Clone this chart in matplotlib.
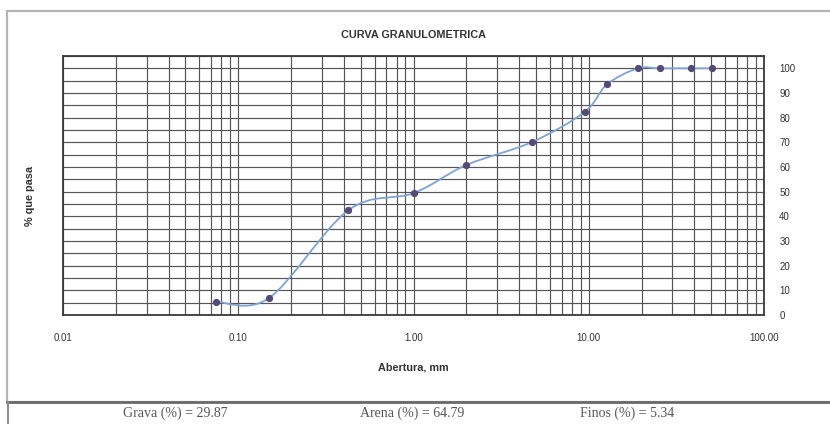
import numpy as np
import matplotlib
matplotlib.use("Agg")
import matplotlib.pyplot as plt
from matplotlib.path import Path
from matplotlib.patches import PathPatch, Rectangle
from matplotlib.lines import Line2D
from matplotlib.ticker import MultipleLocator, FixedLocator, LogLocator, NullFormatter

# Sieve openings (mm) and cumulative percent passing
abertura_mm = [0.075, 0.15, 0.425, 1.00, 2.00, 4.75, 9.50, 12.70, 19.05, 25.40, 38.10, 50.80]
pasa_pct = [5.34, 6.9, 42.5, 49.4, 60.8, 70.13, 82.4, 93.5, 100.0, 100.0, 100.0, 100.0]

x_ticks = [0.01, 0.1, 1.0, 10.0, 100.0]
x_ticklabels = ["0.01", "0.10", "1.00", "10.00", "100.00"]
y_ticks = [0, 10, 20, 30, 40, 50, 60, 70, 80, 90, 100]

grava, arena, finos = 29.87, 64.79, 5.34

W, H = 830, 424
fig = plt.figure(figsize=(W / 100, H / 100), dpi=100)
fig.patch.set_facecolor("white")

def fx(px):
    return px / W

def fy(py):
    return 1 - py / H

# outer chart frame and the summary strip below it
fig.add_artist(Rectangle((fx(7), fy(402)), fx(840) - fx(7), fy(11) - fy(402),
                         transform=fig.transFigure, fill=False, ec="#b5b5b5", lw=1.6))
fig.add_artist(Line2D([fx(7), fx(830)], [fy(401.5), fy(401.5)], transform=fig.transFigure,
                      color="#6a6a6a", lw=2.0))
fig.add_artist(Line2D([fx(7.5), fx(7.5)], [fy(402), fy(430)], transform=fig.transFigure,
                      color="#8a8a8a", lw=1.4))

ax = fig.add_axes([fx(63), fy(315), fx(764) - fx(63), fy(56) - fy(315)])
ax.set_xscale("log")
ax.set_xlim(0.01, 100)
ax.set_ylim(0, 105)

ax.xaxis.set_major_locator(FixedLocator(x_ticks))
ax.xaxis.set_minor_locator(LogLocator(base=10, subs=np.arange(2, 10), numticks=20))
ax.xaxis.set_minor_formatter(NullFormatter())
ax.set_xticks(x_ticks)
ax.set_xticklabels(x_ticklabels)

ax.yaxis.tick_right()
ax.set_yticks(y_ticks)
ax.yaxis.set_minor_locator(MultipleLocator(5))

ax.grid(True, which="both", axis="both", color="#555555", lw=0.85)
ax.set_axisbelow(True)
for s in ax.spines.values():
    s.set_color("#3a3a3a")
    s.set_linewidth(1.3)

ax.tick_params(axis="both", which="both", length=0)
ax.tick_params(axis="x", pad=13)
ax.tick_params(axis="y", pad=11)
for lab in ax.get_xticklabels() + ax.get_yticklabels():
    lab.set_fontfamily("Liberation Sans")
    lab.set_fontsize(7)
    lab.set_color("#333333")

# smoothed curve through the measured points (cubic Bezier in log-x space)
lx = np.log10(abertura_mm)
yy = np.array(pasa_pct, dtype=float)
pts = np.column_stack([lx, yy])
n = len(pts)
verts = [pts[0]]
codes = [Path.MOVETO]
for i in range(n - 1):
    p_prev = pts[i - 1] if i > 0 else pts[i]
    p0 = pts[i]
    p1 = pts[i + 1]
    p_next = pts[i + 2] if i + 2 < n else pts[i + 1]
    c1 = p0 + (p1 - p_prev) / 6.0
    c2 = p1 - (p_next - p0) / 6.0
    verts += [c1, c2, p1]
    codes += [Path.CURVE4] * 3
verts = np.array(verts)
verts[:, 0] = 10 ** verts[:, 0]
ax.add_patch(PathPatch(Path(verts, codes), fill=False, ec="#7ea3d6", lw=1.3, zorder=3))

ax.plot(abertura_mm, pasa_pct, ls="none", marker="o", ms=4.2,
        mfc="#534a78", mec="#534a78", zorder=4)

ax.set_title("CURVA GRANULOMETRICA", fontfamily="Liberation Sans", fontsize=7.8,
             fontweight="bold", color="#333333", pad=13)
ax.set_xlabel("Abertura, mm", fontfamily="Liberation Sans", fontsize=7.8,
              fontweight="bold", color="#333333", labelpad=14)
fig.text(fx(30), fy(196), "% que pasa", rotation=90, ha="center", va="center",
         fontfamily="Liberation Sans", fontsize=7.8, fontweight="bold", color="#333333")

serif = dict(family="Liberation Serif", size=10, color="#555555", va="center", ha="left")
fig.text(fx(123), fy(413), f"Grava (%) = {grava:.2f}", **serif)
fig.text(fx(360), fy(413), f"Arena (%) = {arena:.2f}", **serif)
fig.text(fx(580), fy(413), f"Finos (%) = {finos:.2f}", **serif)

fig.savefig("out.png", dpi=100, facecolor="white")
